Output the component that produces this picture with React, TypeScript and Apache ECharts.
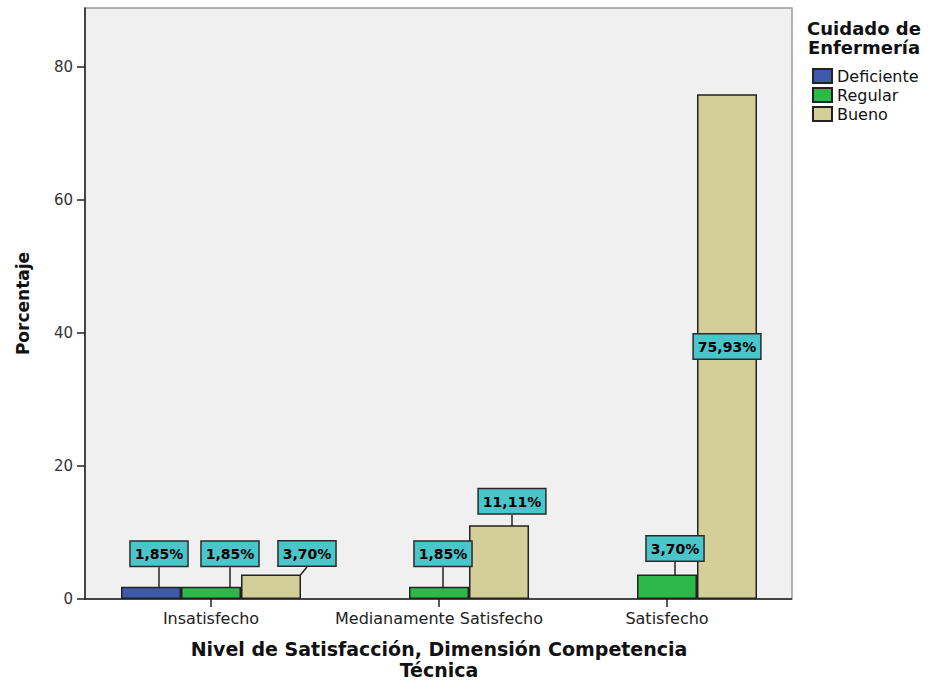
import React, { useEffect, useRef } from "react";
import * as echarts from "echarts";

// Categories and percentages
const categories = ["Insatisfecho", "Medianamente Satisfecho", "Satisfecho"];
const seriesNames = ["Deficiente", "Regular", "Bueno"];
const deficiente: (number | null)[] = [1.85, null, null];
const regular: (number | null)[] = [1.85, 1.85, 3.7];
const bueno: (number | null)[] = [3.7, 11.11, 75.93];
const yTicks = [0, 20, 40, 60, 80];

const colors = ["#3D59AB", "#2FB84A", "#D4CF98"];
const FONT = "DejaVu Sans";

// label nudges (px) relative to the default "top" position, per series / category
const labelShift: ([number, number] | null)[][] = [
  [[8, -21], null, null],
  [[19, -21], [4, -21], [8, -14]],
  [[36, -9], [13, -12], null],
];

const fmt = (v: number) => v.toFixed(2).replace(".", ",") + "%";

export default function App() {
  const ref = useRef<HTMLDivElement>(null);

  useEffect(() => {
    if (!ref.current) return;
    const chart = echarts.init(ref.current, undefined, { renderer: "svg" });

    const gridLeft = 97;
    const gridRight = 149;
    const gridTop = 8;
    const gridBottom = 82;
    const axisOffset = 12;
    const W = 930;
    const H = 681;
    const frameL = gridLeft - axisOffset;
    const frameR = W - gridRight + 11;
    const frameB = H - gridBottom;

    const labelBase = {
      show: true,
      position: "top",
      distance: 0,
      fontFamily: FONT,
      fontWeight: "bold",
      fontSize: 14,
      color: "#000",
      backgroundColor: "#4AC5C9",
      borderColor: "#2a2a2a",
      borderWidth: 1.5,
      padding: [4, 4, 3, 4],
      lineHeight: 17,
      formatter: (p: any) => fmt(p.value),
    };

    const mk = (name: string, arr: (number | null)[], idx: number) => ({
      name,
      type: "bar",
      barWidth: 60,
      barGap: "0%",
      itemStyle: { color: colors[idx], borderColor: "#222", borderWidth: 1.5 },
      data: arr.map((v) =>
        v != null && v > 50 ? { value: v, label: { position: "inside" } } : v
      ),
      label: labelBase,
      labelLine: { show: true, lineStyle: { color: "#222", width: 1.5 } },
      labelLayout: (p: any) => {
        const s = labelShift[idx][p.dataIndex];
        return s ? { dx: s[0], dy: s[1] } : {};
      },
    });

    chart.setOption({
      animation: false,
      grid: {
        left: gridLeft,
        right: gridRight,
        top: gridTop,
        bottom: gridBottom,
        outerBoundsMode: "none",
        containLabel: false,
      },
      graphic: [
        {
          type: "rect",
          z: -1,
          shape: { x: frameL, y: gridTop, width: frameR - frameL, height: frameB - gridTop },
          style: { fill: "#F0F0F0", stroke: "#9A9A9A", lineWidth: 1.5 },
        },
        {
          type: "line",
          z: 1,
          shape: { x1: frameL, y1: frameB, x2: frameR, y2: frameB },
          style: { stroke: "#222", lineWidth: 1.5 },
        },
        {
          type: "text",
          x: 864,
          y: 19,
          style: {
            text: "Cuidado de\nEnfermería",
            fontFamily: FONT,
            fontWeight: "bold",
            fontSize: 18,
            lineHeight: 19,
            fill: "#111",
            align: "center",
            verticalAlign: "top",
          },
        },
      ],
      legend: {
        data: seriesNames,
        orient: "vertical",
        left: 812,
        top: 68,
        padding: 0,
        icon: "rect",
        itemWidth: 19,
        itemHeight: 14,
        itemGap: 3,
        textStyle: { fontFamily: FONT, fontSize: 16, color: "#111", lineHeight: 14 },
      },
      xAxis: {
        type: "category",
        data: categories,
        axisLine: { show: false },
        axisTick: { show: true, alignWithLabel: true, length: 8, lineStyle: { color: "#222", width: 1.5 } },
        axisLabel: { interval: 0, fontFamily: FONT, fontSize: 16, color: "#222", margin: 11 },
        name: "Nivel de Satisfacción, Dimensión Competencia\nTécnica",
        nameLocation: "middle",
        nameGap: 39,
        nameTextStyle: {
          fontFamily: FONT,
          fontWeight: "bold",
          fontSize: 19,
          lineHeight: 21,
          color: "#111",
        },
      },
      yAxis: {
        type: "value",
        min: 0,
        max: 88.9,
        interval: 20,
        offset: axisOffset,
        axisLine: { show: true, lineStyle: { color: "#222", width: 1.5 } },
        axisTick: { show: true, length: 8, customValues: yTicks, lineStyle: { color: "#222", width: 1.5 } },
        axisLabel: { fontFamily: FONT, fontSize: 15, color: "#333", margin: 12, customValues: yTicks },
        splitLine: { show: false },
        name: "Porcentaje",
        nameLocation: "middle",
        nameGap: 54,
        nameTextStyle: { fontFamily: FONT, fontWeight: "bold", fontSize: 17, color: "#111" },
      },
      series: [
        mk(seriesNames[0], deficiente, 0),
        mk(seriesNames[1], regular, 1),
        mk(seriesNames[2], bueno, 2),
      ],
    });

    return () => chart.dispose();
  }, []);

  return (
    <div
      ref={ref}
      style={{ position: "fixed", left: 0, top: 0, width: 930, height: 681, background: "#fff" }}
    />
  );
}
